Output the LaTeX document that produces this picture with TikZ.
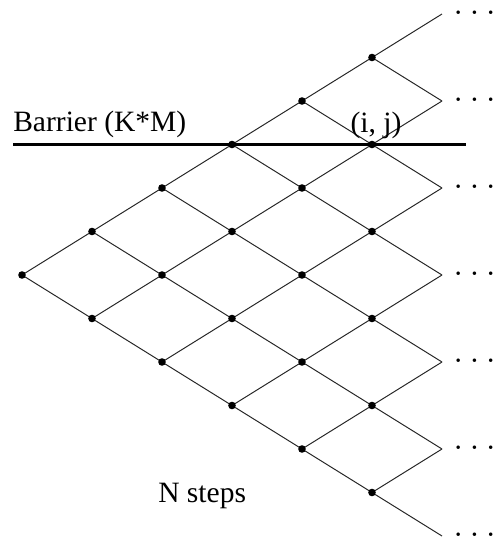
\documentclass[tikz,border=0pt]{standalone}
\usepackage{fontspec}
\setmainfont{Liberation Serif}
\usepackage{tikz}
\usetikzlibrary{positioning, calc}

\newcommand{\morepts}{\smash{\makebox[28pt][l]{\textperiodcentered\hspace{0.22em}\textperiodcentered\hspace{0.22em}\textperiodcentered}}}

\begin{document}
\begin{tikzpicture}[x=0.025cm, y=-0.025cm,
    lattice/.style={line width=0.7pt, black!85},
    knot/.style={circle, fill=black, inner sep=0pt, minimum size=1.9mm},
    barrier/.style={line width=2.2pt, black},
    lbl/.style={font=\fontsize{21}{25}\selectfont, inner sep=0pt}]
    \useasboundingbox (0,0) rectangle (496,541);

    % lattice points: level i, j up-moves
    \foreach \i in {0,...,6} {
        \foreach \j in {0,...,\i} {
            \coordinate (n-\i-\j) at ({22+70*\i}, {275+43.5*(\i-2*\j)});
        }
    }

    % branches
    \foreach \i in {0,...,5} {
        \pgfmathtruncatemacro{\k}{\i+1}
        \foreach \j in {0,...,\i} {
            \pgfmathtruncatemacro{\u}{\j+1}
            \draw [lattice] (n-\i-\j) -- (n-\k-\u);
            \draw [lattice] (n-\i-\j) -- (n-\k-\j);
        }
    }

    % dots
    \foreach \i in {0,...,5} {
        \foreach \j in {0,...,\i} {
            \node [knot] (d-\i-\j) at (n-\i-\j) {};
        }
    }

    % continuation
    \foreach \j in {0,...,6} {
        \node [lbl, anchor=base west] (e-\j) at ($(n-6-\j)+(11,8)$) {\morepts};
    }

    \coordinate (barL) at (13,144.5);
    \coordinate (barR) at (466,144.5);
    \draw [barrier] (barL) -- (barR);

    \node [lbl, anchor=base west] (bar) at (13,131) {Barrier (K*M)};
    \node [lbl, anchor=base] (ij) at (376,132) {(i, j)};
    \node [lbl, anchor=base west] (steps) at (158,502) {N steps};
\end{tikzpicture}
\end{document}
